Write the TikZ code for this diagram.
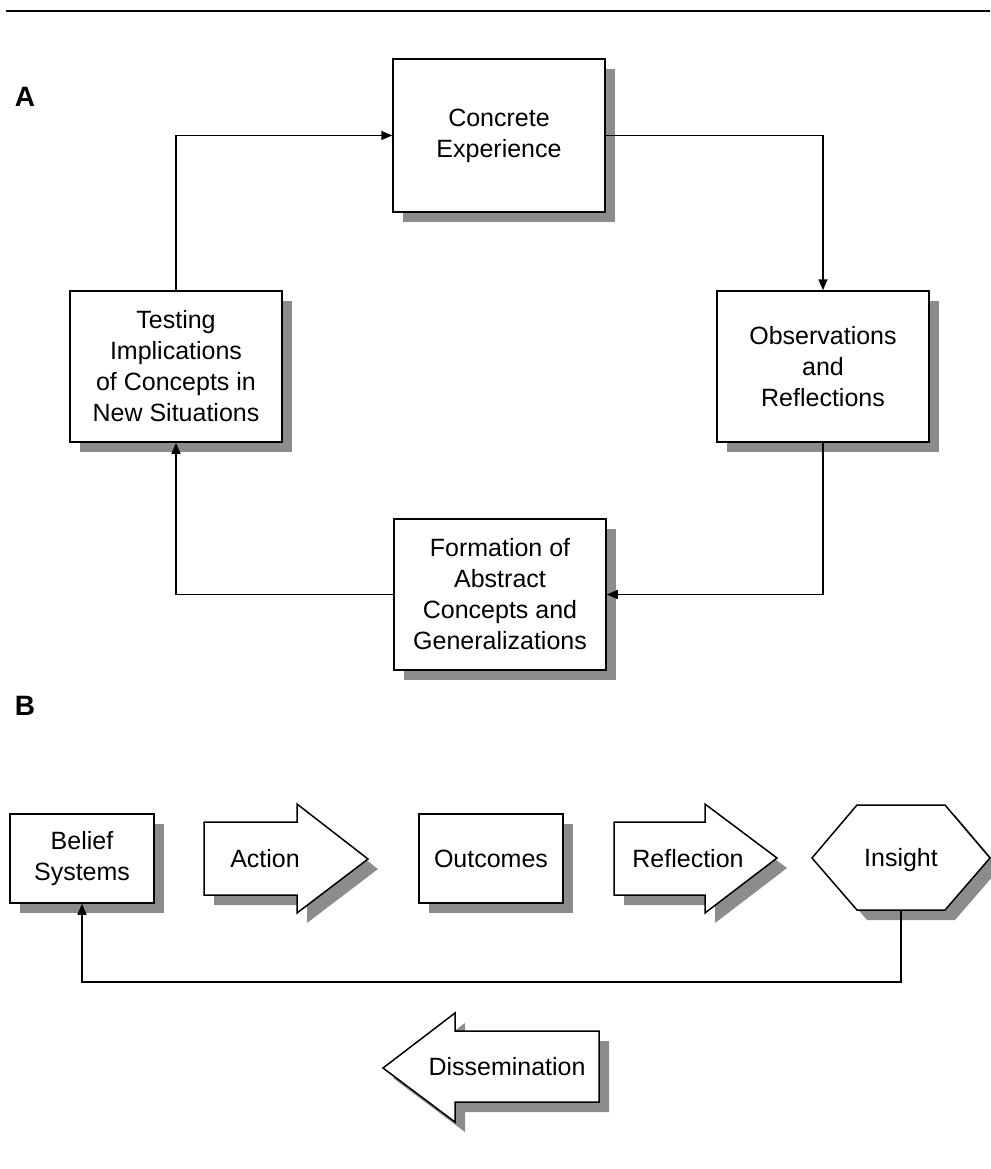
\documentclass[tikz,border=0pt]{standalone}
\usepackage{fontspec}
\setmainfont{Liberation Sans}
\usetikzlibrary{arrows.meta,shadows}

\begin{document}
\begin{tikzpicture} [
    x=1pt, y=-1pt,
    shadowed/.style = { drop shadow={shadow xshift=10pt, shadow yshift=-10pt,
                        fill=black!45, opacity=1} },
    block/.style    = { rectangle, draw, fill=white, line width=1.5pt,
                        text centered, align=center, inner sep=0pt,
                        font=\fontsize{25}{31}\selectfont, shadowed },
    sign/.style     = { draw, fill=white, line width=1.5pt, shadowed },
    caption/.style  = { font=\fontsize{25}{31}\selectfont, align=center },
    panel/.style    = { font=\bfseries\fontsize{28}{30}\selectfont },
    line/.style     = { draw, line width=1.5pt,
                        -{Triangle[length=11pt,width=9pt]} },
  ]

  \useasboundingbox (0,0) rectangle (990,1169);
  \draw [line width=2pt] (6,11) -- (990,11);

  % panel A: the cycle
  \node[panel] (pa) at (25,97) {A};
  \node[block, minimum width=212pt, minimum height=153pt] (concrete) at (499,135.5) {Concrete\\Experience};
  \node[block, minimum width=212pt, minimum height=151pt] (observe) at (823,366.5) {Observations\\and\\Reflections};
  \node[block, minimum width=212pt, minimum height=151pt] (formation) at (500,594.5) {Formation of\\Abstract\\Concepts and\\Generalizations};
  \node[block, minimum width=212pt, minimum height=151pt] (testing) at (176,366.5) {Testing\\Implications\\of Concepts in\\New Situations};

  % connect the nodes
  \path [line] (testing.north) |- (concrete.west);
  \path [line] (concrete.east) -| (observe.north);
  \path [line] (observe.south) |- (formation.east);
  \path [line] (formation.west) -| (testing.south);

  % panel B: the row
  \node[panel] (pb) at (25,706) {B};
  \node[block, minimum width=144pt, minimum height=89pt] (belief) at (82,858.5) {Belief\\Systems};
  \path[sign] (204,822) -- (297,822) -- (297,804) -- (368,859) -- (297,913) -- (297,895) -- (204,895) -- cycle;
  \node[caption] (action) at (265,859) {Action};
  \node[block, minimum width=144pt, minimum height=89pt] (outcomes) at (491,858.5) {Outcomes};
  \path[sign] (614,822) -- (705,822) -- (705,804) -- (777,858) -- (705,913) -- (705,895) -- (614,895) -- cycle;
  \node[caption] (reflection) at (688,859) {Reflection};
  \path[sign] (812,858) -- (857,805) -- (945,805) -- (990,858) -- (945,910) -- (857,910) -- cycle;
  \node[caption, minimum width=178pt, minimum height=105pt, inner sep=0pt, text depth=0pt] (insight) at (901,857.5) {Insight};
  \path[sign] (383,1068) -- (455,1013) -- (455,1031) -- (599,1031) -- (599,1102) -- (455,1102) -- (455,1122) -- cycle;
  \node[caption] (dissem) at (507,1067) {Dissemination};

  \path [line] (insight.south) -- ++(0,72) -| (belief.south);
\end{tikzpicture}
\end{document}
